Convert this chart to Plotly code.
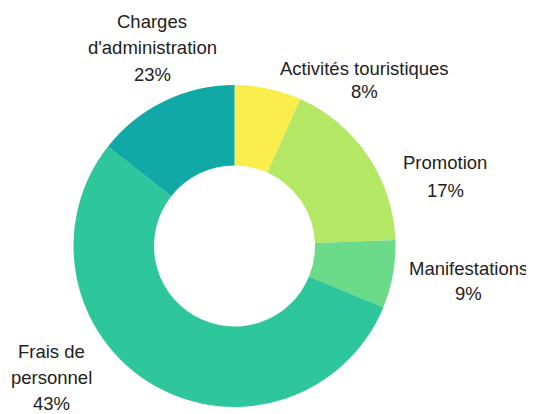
import plotly.graph_objects as go

# Categories (clockwise from 12 o'clock)
categories = ["Activités touristiques", "Promotion", "Manifestations",
              "Frais de personnel", "Charges d'administration"]
# Slice sizes as drawn in the picture (share of the ring, %)
slice_values = [6.7, 17.7, 6.8, 54.4, 14.4]
# Percentages printed in the labels
pct_labels = ["8%", "17%", "9%", "43%", "23%"]
# Label text lines (as wrapped in the picture)
label_lines = [["Activités touristiques"], ["Promotion"], ["Manifestations"],
               ["Frais de", "personnel"], ["Charges", "d'administration"]]
colors = ["#F9EE4C", "#B4E764", "#6BDA89", "#2DC79B", "#10A9A5"]

OFF = 8  # page body margin offset
W, H = 534 - OFF, 414 - OFF

def px(x):
    return (x - OFF) / W

def py(y):
    return 1 - (y - OFF) / H

fig = go.Figure(go.Pie(
    labels=categories,
    values=slice_values,
    hole=0.5,
    sort=False,
    direction="clockwise",
    rotation=0,
    textinfo="none",
    hoverinfo="label+percent",
    marker=dict(colors=colors, line=dict(width=0)),
    domain=dict(x=[px(73), px(396)], y=[py(407), py(85)]),
    showlegend=False,
))

# label placement (page pixel centre x, first-line y, line spacing)
label_pos = [(364, 68, 24), (445, 163, 27), (468, 268, 25),
             (51, 351, 26), (152, 22, 26)]

annotations = []
for lines, pct, (cx, y0, dy) in zip(label_lines, pct_labels, label_pos):
    for i, t in enumerate(lines + [pct]):
        annotations.append(dict(
            text=t, x=px(cx), y=py(y0 + i * dy),
            xref="paper", yref="paper", xanchor="center", yanchor="middle",
            showarrow=False,
            font=dict(family="Liberation Sans, Arial, sans-serif", size=18.5, color="#222222"),
        ))

fig.update_layout(
    width=W, height=H,
    margin=dict(l=0, r=0, t=0, b=0),
    paper_bgcolor="white", plot_bgcolor="white",
    annotations=annotations,
)

fig.write_html("out.html")
